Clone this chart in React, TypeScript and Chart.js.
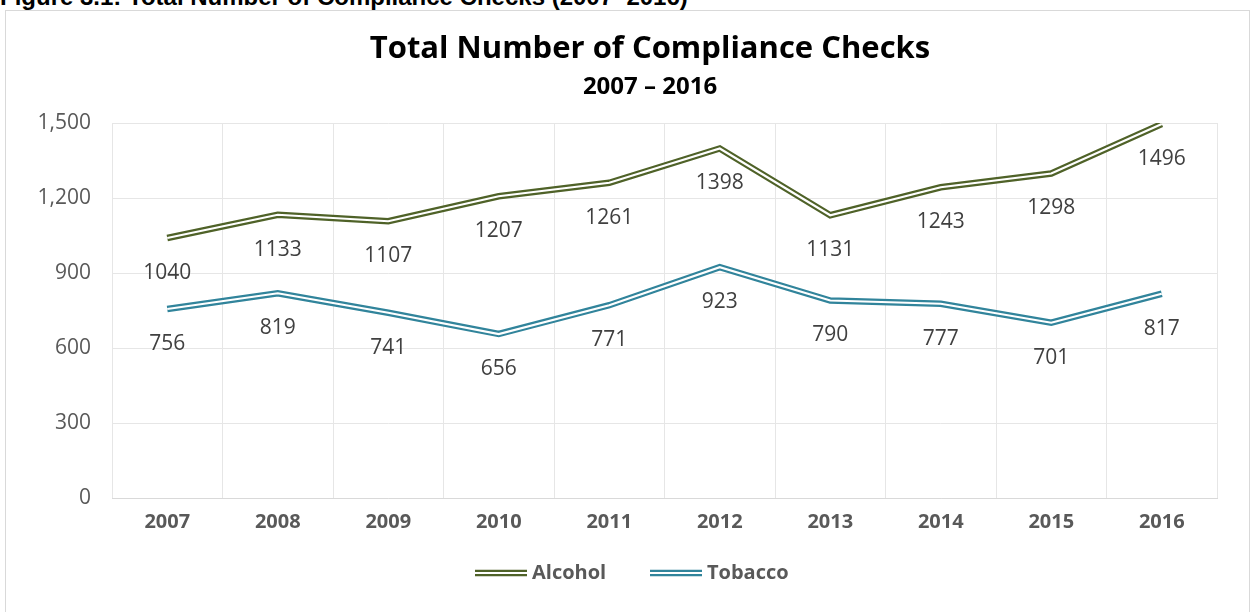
import React, { useEffect, useRef } from 'react';
import { Chart, registerables } from 'chart.js';
Chart.register(...registerables);

const years = ['2007', '2008', '2009', '2010', '2011', '2012', '2013', '2014', '2015', '2016'];
const alcohol = [1040, 1133, 1107, 1207, 1261, 1398, 1131, 1243, 1298, 1496];
const tobacco = [756, 819, 741, 656, 771, 923, 790, 777, 701, 817];
const seriesNames = ['Alcohol', 'Tobacco'];
const seriesColors = ['#4F6228', '#31849B'];
const yMin = 0;
const yMax = 1500;
const yStep = 300;
const titleText = 'Total Number of Compliance Checks';
const subtitleText = '2007 \u2013 2016';
const figureCaption = 'Figure 3.1: Total Number of Compliance Checks (2007\u20132016)';

const FONT = '"Open Sans", "DejaVu Sans", sans-serif';

const decorPlugin = {
  id: 'decor',
  afterDraw(chart: any) {
    const ctx = chart.ctx;
    ctx.save();
    // titles
    ctx.fillStyle = '#000000';
    ctx.textAlign = 'center';
    ctx.textBaseline = 'alphabetic';
    ctx.font = `bold 31px ${FONT}`;
    ctx.fillText(titleText, 650, 58);
    ctx.font = `bold 24px ${FONT}`;
    ctx.fillText(subtitleText, 650, 94);

    // data labels
    ctx.textBaseline = 'middle';
    ctx.font = `21px ${FONT}`;
    ctx.fillStyle = '#404040';
    [0, 2].forEach((di) => {
      const meta = chart.getDatasetMeta(di);
      const data = chart.data.datasets[di].data as number[];
      meta.data.forEach((pt: any, i: number) => {
        ctx.fillText(String(data[i]), pt.x, pt.y + 35);
      });
    });

    // legend
    const items = [
      { name: seriesNames[0], color: seriesColors[0], x: 475 },
      { name: seriesNames[1], color: seriesColors[1], x: 650 },
    ];
    const ly = 573;
    items.forEach((it) => {
      ctx.lineCap = 'butt';
      ctx.strokeStyle = it.color;
      ctx.lineWidth = 6.5;
      ctx.beginPath();
      ctx.moveTo(it.x, ly);
      ctx.lineTo(it.x + 52, ly);
      ctx.stroke();
      ctx.strokeStyle = '#ffffff';
      ctx.lineWidth = 2.2;
      ctx.beginPath();
      ctx.moveTo(it.x - 1, ly);
      ctx.lineTo(it.x + 53, ly);
      ctx.stroke();
      ctx.fillStyle = '#595959';
      ctx.font = `bold 20px ${FONT}`;
      ctx.textAlign = 'left';
      ctx.fillText(it.name, it.x + 57, ly);
    });
    ctx.restore();
  },
};

export default function App() {
  const ref = useRef<HTMLCanvasElement>(null);
  useEffect(() => {
    document.body.style.margin = '0';
    const outer = (data: number[], color: string) => ({
      data,
      borderColor: color,
      borderWidth: 6.5,
      pointRadius: 0,
      tension: 0,
      fill: false,
      order: 2,
      borderJoinStyle: 'miter' as const,
    });
    const inner = (data: number[]) => ({
      data,
      borderColor: '#ffffff',
      borderWidth: 2.2,
      pointRadius: 0,
      tension: 0,
      fill: false,
      order: 1,
      borderJoinStyle: 'miter' as const,
    });
    const chart = new Chart(ref.current!, {
      type: 'line',
      data: {
        labels: years,
        datasets: [
          { label: seriesNames[0], ...outer(alcohol, seriesColors[0]) },
          { label: seriesNames[0] + ' inner', ...inner(alcohol) },
          { label: seriesNames[1], ...outer(tobacco, seriesColors[1]) },
          { label: seriesNames[1] + ' inner', ...inner(tobacco) },
        ],
      },
      options: {
        animation: false,
        responsive: false,
        maintainAspectRatio: false,
        layout: { padding: { top: 123, right: 35, left: 0, bottom: 0 } },
        plugins: {
          legend: { display: false },
          title: { display: false },
          tooltip: { enabled: false },
        },
        scales: {
          x: {
            offset: true,
            grid: { color: '#e6e6e6', offset: true, drawTicks: false, lineWidth: 1 },
            border: { display: true, color: '#d9d9d9' },
            ticks: {
              color: '#595959',
              font: { family: FONT, size: 20, weight: 'bold' },
              padding: 12,
            },
            afterFit(scale: any) {
              scale.height = 114;
            },
          },
          y: {
            min: yMin,
            max: yMax,
            grid: { color: '#e6e6e6', drawTicks: false },
            border: { display: false },
            ticks: {
              stepSize: yStep,
              color: '#595959',
              font: { family: FONT, size: 21 },
              padding: 21,
              callback: (v: any) => Number(v).toLocaleString('en-US'),
            },
            afterFit(scale: any) {
              scale.width = 112;
            },
          },
        },
      },
      plugins: [decorPlugin],
    });
    return () => chart.destroy();
  }, []);

  return (
    <div style={{ position: 'fixed', left: 0, top: 0, width: 1252, height: 612, background: '#fff', overflow: 'hidden' }}>
      <div
        style={{
          position: 'absolute',
          left: 0,
          top: -17,
          fontFamily: '"Liberation Sans", Arial, sans-serif',
          fontWeight: 'bold',
          fontSize: 24,
          whiteSpace: 'nowrap',
          color: '#000',
          lineHeight: '28px',
        }}
      >
        {figureCaption}
      </div>
      <div
        style={{
          position: 'absolute',
          left: 5,
          top: 10,
          width: 1245,
          height: 620,
          border: '1px solid #d9d9d9',
          boxSizing: 'border-box',
        }}
      />
      <canvas ref={ref} width={1252} height={612} style={{ position: 'absolute', left: 0, top: 0 }} />
    </div>
  );
}
